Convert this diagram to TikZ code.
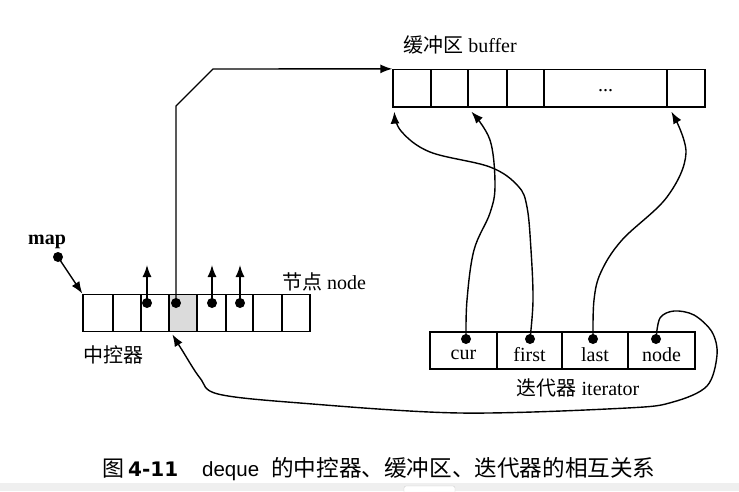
\documentclass[tikz,border=0pt]{standalone}
\usepackage{fontspec}
\setmainfont{Liberation Serif}
\newfontfamily\cjkfont{Noto Sans CJK SC}
\newfontfamily\capsans{Liberation Sans}
\newfontfamily\capdejavu{DejaVu Sans}
\usetikzlibrary{arrows.meta,calc}
\newcommand\zhtxt[1]{{\cjkfont\fontsize{20}{24}\selectfont #1}}
\definecolor{barcol}{HTML}{EFEFEF}
\definecolor{boxedge}{HTML}{CFCFCF}
\begin{document}
\begin{tikzpicture}[x=1pt,y=1pt,
  cell/.style={draw, line width=1.3pt, inner sep=0pt, minimum height=37.5pt},
  dot/.style={circle, fill=black, inner sep=0pt, minimum size=10pt},
  conn/.style={line width=1.4pt, -{Latex[length=12pt,width=9pt]}},
  lbl/.style={inner sep=0pt, font=\fontsize{20}{23}\selectfont},
  capt/.style={inner sep=0pt, anchor=base west}]
\useasboundingbox (0,0) rectangle (739,-491);
% bottom bar (screen artefact)
\fill[barcol] (0,-483) rectangle (739,-491);
\draw[boxedge, fill=white, rounded corners=2pt] (404,-492) -- (404,-486) -- (455,-486) -- (455,-492);
% map (central controller)
\node[cell, minimum width=30pt] (m1) at (98,-313) {};
\node[cell, minimum width=28pt] (m2) at (127,-313) {};
\node[cell, minimum width=28pt] (m3) at (155,-313) {};
\node[cell, minimum width=28pt, fill=gray!28] (m4) at (183,-313) {};
\node[cell, minimum width=29pt] (m5) at (211.5,-313) {};
\node[cell, minimum width=27pt] (m6) at (239.5,-313) {};
\node[cell, minimum width=29pt] (m7) at (267.5,-313) {};
\node[cell, minimum width=28pt] (m8) at (296,-313) {};
% buffer
\node[cell, minimum width=38pt] (b1) at (412,-88.25) {};
\node[cell, minimum width=37pt] (b2) at (449.5,-88.25) {};
\node[cell, minimum width=39pt] (b3) at (487.5,-88.25) {};
\node[cell, minimum width=37pt] (b4) at (525.5,-88.25) {};
\node[cell, minimum width=123pt] (b5) at (605.5,-88.25) {};
\node[cell, minimum width=38pt] (b6) at (686,-88.25) {};
\node[lbl] (bdots) at (605.5,-91) {...};
% iterator
\node[cell, minimum width=67pt, minimum height=37pt] (i1) at (463.5,-350.5) {};
\node[cell, minimum width=65pt, minimum height=37pt] (i2) at (529.5,-350.5) {};
\node[cell, minimum width=66pt, minimum height=37pt] (i3) at (595,-350.5) {};
\node[cell, minimum width=67pt, minimum height=37pt] (i4) at (661.5,-350.5) {};
\node[lbl] (tcur) at (463.5,-355) {cur};
\node[lbl] (tfirst) at (529.5,-355) {first};
\node[lbl] (tlast) at (595,-355) {last};
\node[lbl] (tnode) at (661.5,-355) {node};
% labels
\node[lbl] (lbuf) at (460,-45) {\zhtxt{缓冲区} buffer};
\node[lbl] (lnode) at (324,-282) {\zhtxt{节点} node};
\node[lbl] (lmap) at (113,-355) {\zhtxt{中控器}};
\node[lbl] (liter) at (578,-388) {\zhtxt{迭代器} iterator};
\node[lbl, font=\fontsize{20}{22}\selectfont\bfseries] (mapname) at (47,-242) {map};
% dots
\node[dot] (mapdot) at (58,-257) {};
\node[dot] (da) at (147,-303) {};
\node[dot] (db) at (176,-303) {};
\node[dot] (dc) at (212,-303) {};
\node[dot] (dd) at (240,-303) {};
\node[dot] (ccur) at (466,-339) {};
\node[dot] (cfirst) at (530,-339) {};
\node[dot] (clast) at (593,-339) {};
\node[dot] (cnode) at (656,-339) {};
% arrow end points
\coordinate (ua) at (147,-265);
\coordinate (uc) at (212,-265);
\coordinate (ud) at (240,-265);
\coordinate (t1) at ($(b1.south west)+(2,-4)$);
\coordinate (t3) at ($(b3.south west)+(4,-4)$);
\coordinate (t6) at ($(b6.south west)+(5,-4)$);
\coordinate (t4) at ($(m4.south west)+(4,-2)$);
\coordinate (bendA) at (176,-106);
\coordinate (bendB) at (213,-69);
% connectors
\draw[conn] (mapdot.center) -- (m1.north west);
\draw[conn] (da.center) -- (ua);
\draw[conn] (dc.center) -- (uc);
\draw[conn] (dd.center) -- (ud);
\draw[conn] (db.center) -- (bendA) -- (bendB) -- (b1.north west);
\draw[conn] plot[smooth, tension=0.6] coordinates {(ccur.center) (467,-300) (474,-250) (490,-213) (495,-185) (490,-140) (t3)};
\draw[conn] plot[smooth, tension=0.6] coordinates {(cfirst.center) (533,-300) (531,-250) (527,-207) (518,-186) (490,-167) (430,-152) (401,-131) (t1)};
\draw[conn] plot[smooth, tension=0.6] coordinates {(clast.center) (594,-300) (601,-272) (622,-240) (667,-197) (686,-153) (t6)};
\draw[conn] plot[smooth, tension=0.55] coordinates {(cnode.center) (660,-318) (674,-311) (694,-315) (712,-332) (717,-355) (707,-386) (673,-402) (627,-408) (460,-413) (300,-403) (218,-394) (200,-378) (182,-350) (t4)};
% caption
\node[capt] (cap1) at (102,-476) {{\cjkfont\fontsize{22}{26}\selectfont 图}};
\node[capt] (cap2) at (128,-476) {{\capdejavu\bfseries\fontsize{20}{24}\selectfont 4-11}};
\node[capt] (cap3) at (202,-476) {{\capsans\fontsize{20.5}{24}\selectfont deque}};
\node[capt] (cap4) at (271,-476) {{\cjkfont\fontsize{22.6}{26}\selectfont 的中控器、缓冲区、迭代器的相互关系}};
\end{tikzpicture}
\end{document}
